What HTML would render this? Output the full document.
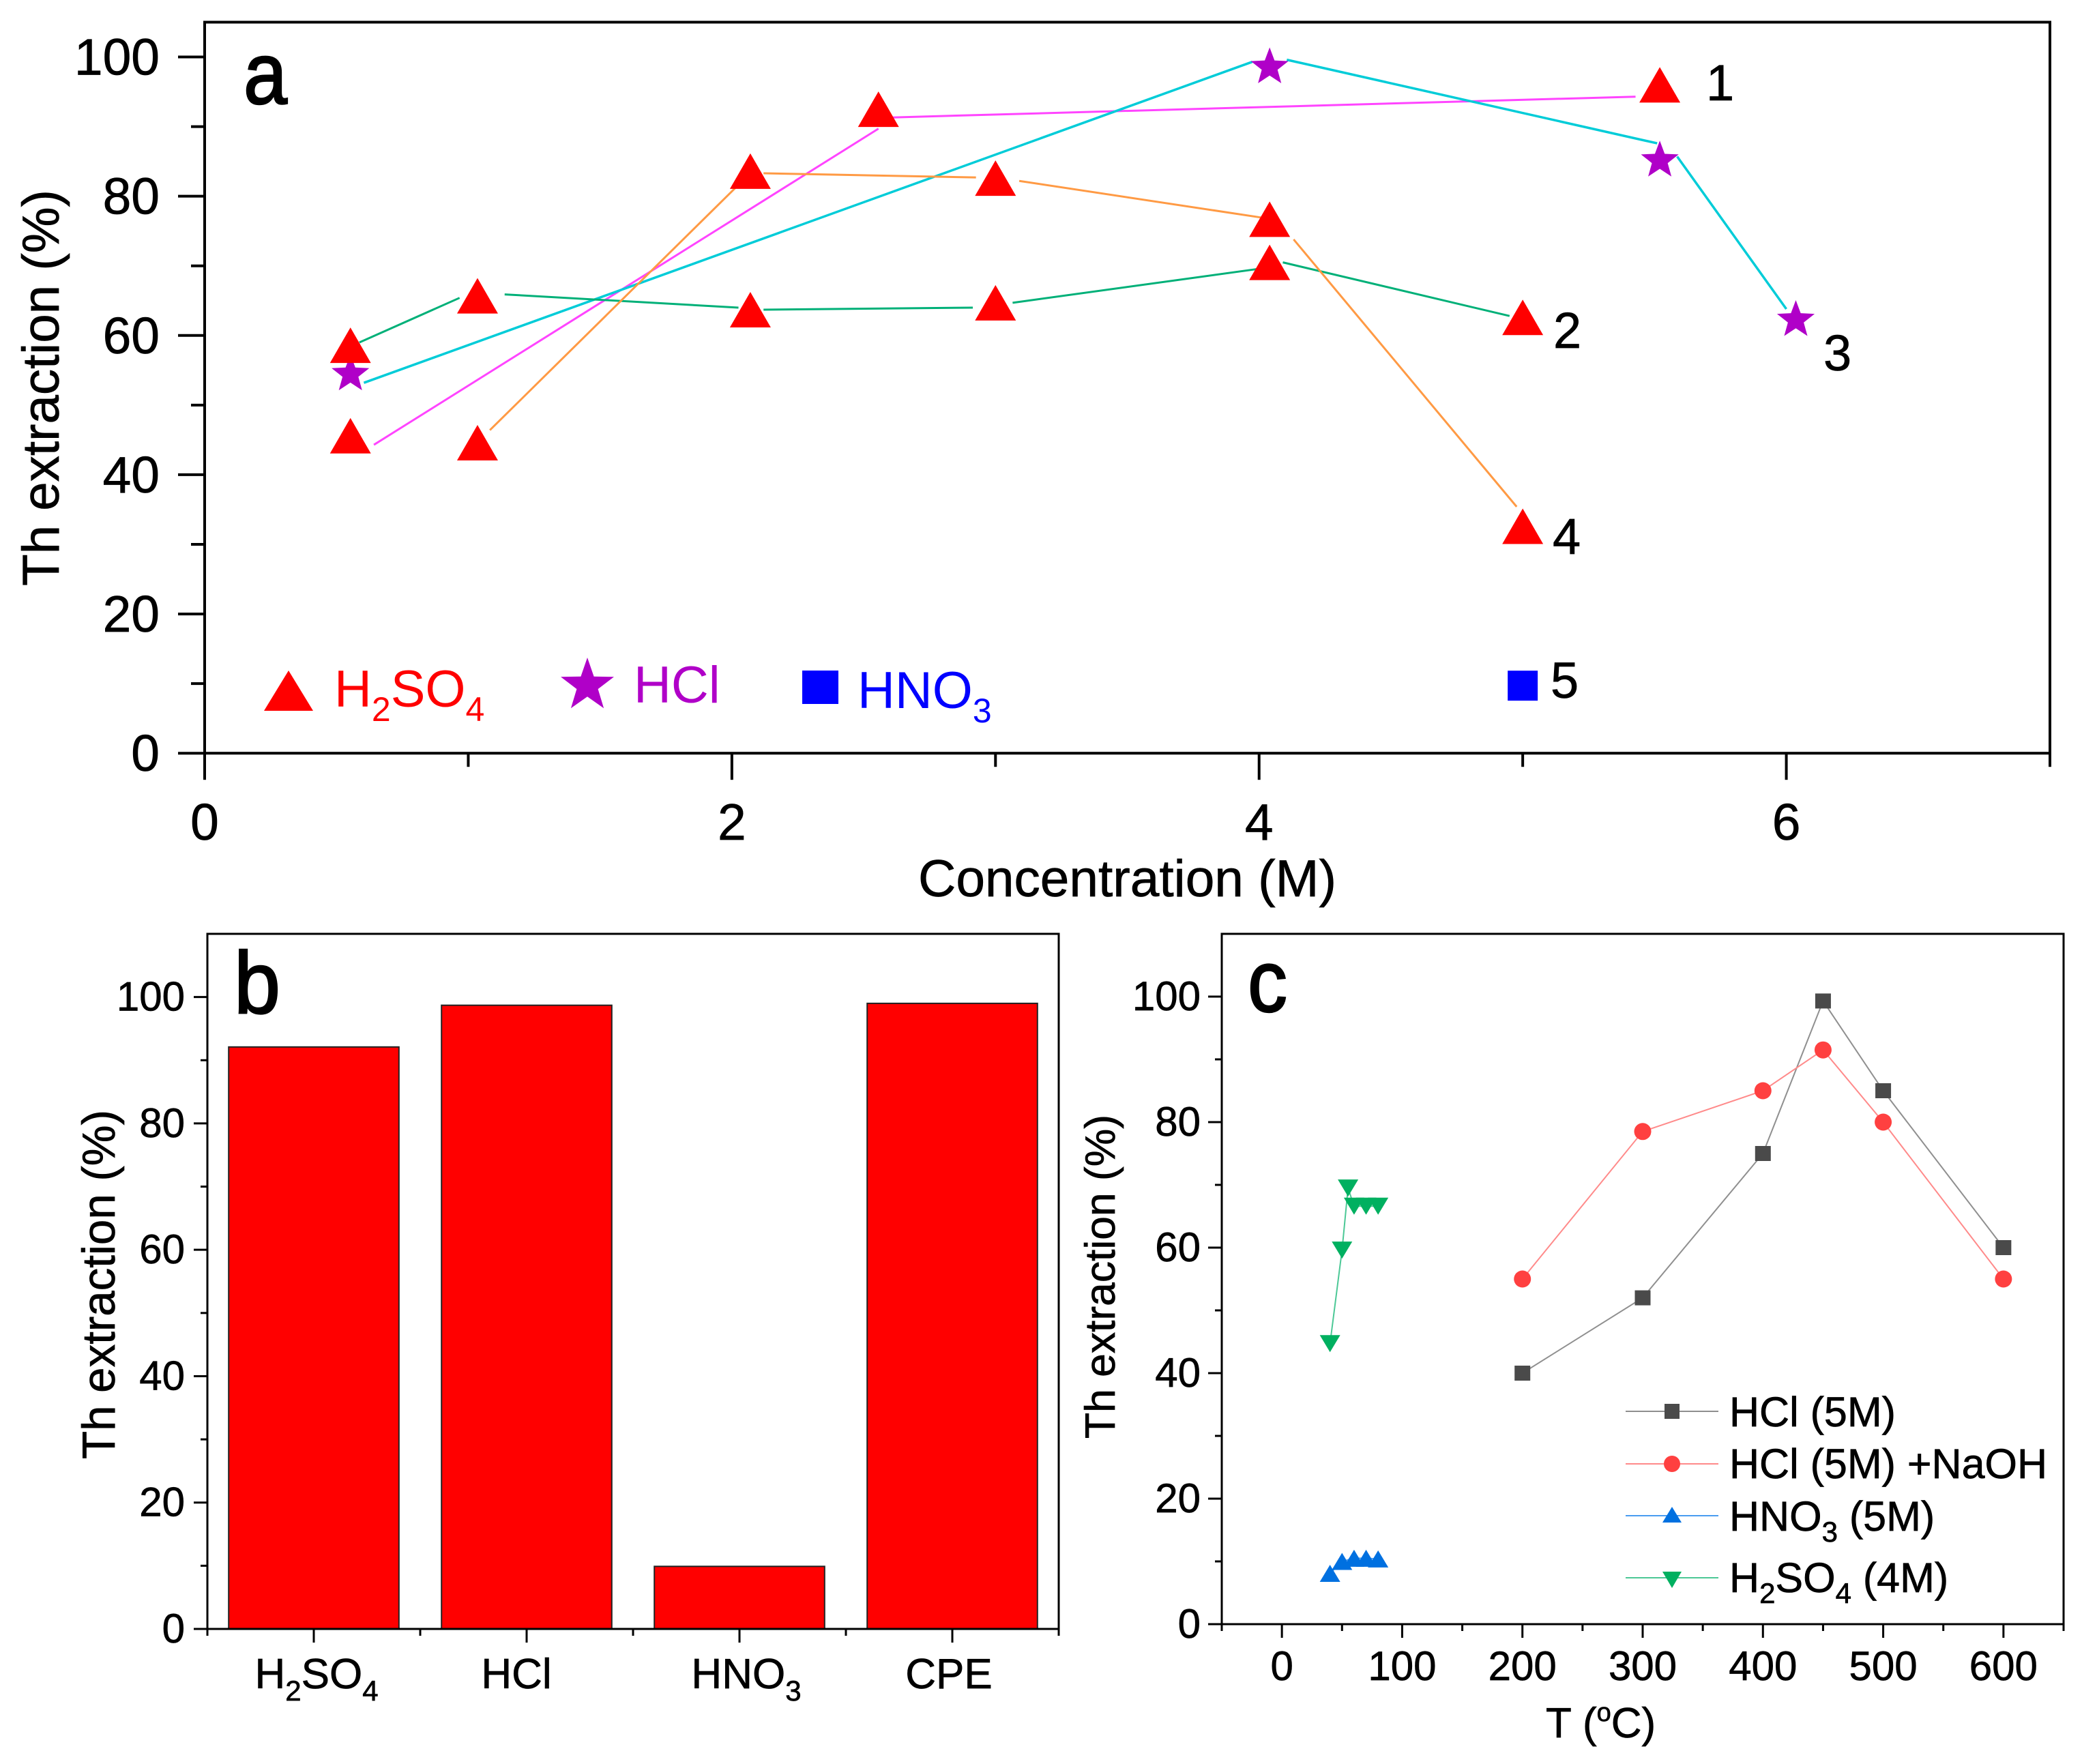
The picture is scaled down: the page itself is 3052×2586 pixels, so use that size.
<!DOCTYPE html>
<html lang="en">
<head>
<meta charset="utf-8">
<title>Th extraction charts</title>
<style>
html,body{margin:0;padding:0;background:#fff;}
svg{display:block;font-family:"Liberation Sans",Arial,sans-serif;}
text:not([fill]){stroke:#000;stroke-width:.7px;}
text.letter{stroke-width:2.5px;}
</style>
</head>
<body>
<svg id="figure" xmlns="http://www.w3.org/2000/svg" width="3052" height="2586" viewBox="0 0 3052 2586">
  <rect x="0" y="0" width="3052" height="2586" fill="#fff"/>

  <g id="panel-a"></g>
  <g id="panel-b"></g>
  <g id="panel-c"></g>

  <!-- Panel a text -->
  <text class="letter" x="357" y="152" font-size="128" textLength="64" lengthAdjust="spacingAndGlyphs">a</text>
  <text transform="translate(86,859) rotate(-90)" font-size="76" textLength="581" lengthAdjust="spacingAndGlyphs">Th extraction (%)</text>
  <text x="1346" y="1314" font-size="76" textLength="613" lengthAdjust="spacingAndGlyphs">Concentration (M)</text>
  <text x="2501" y="147" font-size="74">1</text>
  <text x="2277" y="510" font-size="74">2</text>
  <text x="2673" y="543" font-size="74">3</text>
  <text x="2276" y="812" font-size="74">4</text>
  <text x="2273" y="1023" font-size="74">5</text>
  <polygon points="423,983 459,1042 387,1042" fill="#ff0000"/>
  <text x="490" y="1036" font-size="76" fill="#ff0000">H<tspan font-size="50" dy="21">2</tspan><tspan dy="-21">SO</tspan><tspan font-size="50" dy="21">4</tspan></text>
  <polygon points="861,964 870.6,991.8 900,992.3 876.6,1010.1 885.1,1038.2 861,1021.3 836.9,1038.2 845.4,1010.1 822,992.3 851.4,991.8" fill="#b000c8"/>
  <text x="929" y="1030" font-size="76" fill="#b000c8">HCl</text>
  <rect x="1176" y="983" width="53" height="49" fill="#0000ff"/>
  <text x="1257" y="1038" font-size="76" fill="#0000ff">HNO<tspan font-size="50" dy="21">3</tspan></text>

  <!-- Panel b text -->
  <text class="letter" x="343" y="1485" font-size="128" textLength="68" lengthAdjust="spacingAndGlyphs">b</text>
  <text transform="translate(168,2139) rotate(-90)" font-size="68" textLength="512" lengthAdjust="spacingAndGlyphs">Th extraction (%)</text>

  <!-- Panel c text -->
  <text class="letter" x="1829" y="1483" font-size="128" textLength="58" lengthAdjust="spacingAndGlyphs">c</text>
  <text transform="translate(1634,2109) rotate(-90)" font-size="62" textLength="475" lengthAdjust="spacingAndGlyphs">Th extraction (%)</text>
  <text x="2266" y="2547" font-size="62">T (<tspan font-size="38" dy="-24">o</tspan><tspan dy="24">C)</tspan></text>

  <line x1="2383" y1="2069" x2="2519" y2="2069" stroke="#8f8f8f" stroke-width="2"/>
  <rect x="2440" y="2058" width="22" height="22" fill="#4a4a4a"/>
  <text x="2535" y="2091" font-size="61">HCl (5M)</text>
  <line x1="2383" y1="2146" x2="2519" y2="2146" stroke="#ff8a8a" stroke-width="2"/>
  <circle cx="2451" cy="2146" r="12" fill="#ff4040"/>
  <text x="2535" y="2167" font-size="61">HCl (5M) +NaOH</text>
  <line x1="2383" y1="2222" x2="2519" y2="2222" stroke="#4a9cf0" stroke-width="2"/>
  <polygon points="2451,2209 2465,2232 2437,2232" fill="#0070e0"/>
  <text x="2535" y="2244" font-size="61">HNO<tspan font-size="42" dy="16">3</tspan><tspan dy="-16"> (5M)</tspan></text>
  <line x1="2383" y1="2313" x2="2519" y2="2313" stroke="#4cc896" stroke-width="2"/>
  <polygon points="2437,2304 2465,2304 2451,2328" fill="#00b060"/>
  <text x="2535" y="2334" font-size="61">H<tspan font-size="42" dy="16">2</tspan><tspan dy="-16">SO</tspan><tspan font-size="42" dy="16">4</tspan><tspan dy="-16"> (4M)</tspan></text>
</svg>

<script>
/* ---------- Panel a data ---------- */
const aYMajorTicks = [0, 20, 40, 60, 80, 100];
const aYMinorTicks = [10, 30, 50, 70, 90];
const aXMajorTicks = [0, 2, 4, 6];
const aXMinorTicks = [1, 3, 5, 7];

const series1X = [0.553, 2.556, 5.52];
const series1Y = [45.6, 92.5, 96.0];
const series1LineX = [0.642, 2.556, 2.594, 5.428];
const series1LineY = [44.3, 89.7, 91.3, 94.3];

const series2X = [0.553, 1.035, 2.07, 3.0, 4.04, 5.0];
const series2Y = [58.6, 65.7, 63.7, 64.7, 70.5, 62.6];
const series2LineX = [0.587, 0.967, 1.138, 2.025, 2.12, 2.914, 3.065, 4.004, 4.09, 4.95];
const series2LineY = [59.0, 65.4, 65.9, 64.0, 63.7, 64.0, 64.7, 69.6, 70.5, 62.8];

const series3X = [0.553, 4.04, 5.52, 6.036];
const series3Y = [54.7, 98.8, 85.4, 62.5];
const series3LineX = [0.604, 3.974, 4.105, 5.51, 5.586, 6.0];
const series3LineY = [53.2, 99.3, 99.6, 87.6, 85.7, 63.8];

const series4X = [1.035, 2.07, 3.0, 4.04, 5.0];
const series4Y = [44.6, 83.6, 82.6, 76.7, 32.6];
const series4LineX = [1.082, 2.032, 2.12, 2.926, 3.09, 4.015, 4.131, 4.977];
const series4LineY = [46.4, 81.9, 83.3, 82.7, 82.2, 76.9, 73.8, 35.4];

const series5X = [5.0];
const series5Y = [9.7];

/* ---------- Panel b data ---------- */
const bCategories = ['H2SO4', 'HCl', 'HNO3', 'CPE'];
const bValues = [92.1, 98.7, 9.9, 99.0];
const bYMajorTicks = [0, 20, 40, 60, 80, 100];
const bYMinorTicks = [10, 30, 50, 70, 90];

/* ---------- Panel c data ---------- */
const cYMajorTicks = [0, 20, 40, 60, 80, 100];
const cYMinorTicks = [10, 30, 50, 70, 90];
const cXMajorTicks = [0, 100, 200, 300, 400, 500, 600];
const cXMinorTicks = [-50, 50, 150, 250, 350, 450, 550, 650];

const hclT = [200, 300, 400, 450, 500, 600];
const hclY = [40, 52, 75, 99.3, 85, 60];
const naohT = [200, 300, 400, 450, 500, 600];
const naohY = [55, 78.5, 85, 91.5, 80, 55];
const hno3T = [40, 50, 60, 70, 80];
const hno3Y = [8.1, 10, 10.5, 10.5, 10.4];
const h2so4T = [40, 50, 55, 60, 70, 80];
const h2so4Y = [44.7, 59.6, 69.5, 66.6, 66.6, 66.6];

/* ---------- Helpers ---------- */
const NS = 'http://www.w3.org/2000/svg';
function make(parent, tag, props, text) {
  const el = document.createElementNS(NS, tag);
  for (const k in props) el.setAttribute(k, props[k]);
  if (text !== undefined) el.textContent = text;
  parent.appendChild(el);
  return el;
}
function trianglePoints(cx, cy, w, h, down) {
  if (down) return [[cx - w / 2, cy - h / 2], [cx + w / 2, cy - h / 2], [cx, cy + h / 2]].join(' ');
  return [[cx, cy - h / 2], [cx + w / 2, cy + h / 2], [cx - w / 2, cy + h / 2]].join(' ');
}
function starPoints(cx, cy, r) {
  const pts = [];
  for (let i = 0; i < 10; i++) {
    const rr = i % 2 ? r * 0.42 : r;
    const a = -Math.PI / 2 + i * Math.PI / 5;
    pts.push([cx + rr * Math.cos(a), cy + rr * Math.sin(a)]);
  }
  return pts.join(' ');
}

/* Draws the frame/axes + ticks for a panel */
function drawAxes(g, name, box, sx, sy, cfg) {
  const frame = make(g, 'rect', {x: box.l, y: box.t, width: box.r - box.l, height: box.b - box.t, fill: 'none', stroke: '#000', 'stroke-width': cfg.sw});
  
  
  cfg.yMajor.forEach(function (v) {
    const t = make(g, 'line', {x1: box.l - cfg.major, x2: box.l, y1: sy(v), y2: sy(v), stroke: '#000', 'stroke-width': cfg.sw});
    
    
    const l = make(g, 'text', {x: box.l - cfg.yLabelGap, y: sy(v) + cfg.yLabelShift, 'font-size': cfg.fs, 'text-anchor': 'end'}, String(v));
    
    
  });
  cfg.yMinor.forEach(function (v) {
    const t = make(g, 'line', {x1: box.l - cfg.minor, x2: box.l, y1: sy(v), y2: sy(v), stroke: '#000', 'stroke-width': cfg.sw});
    
    
  });
  cfg.xMajor.forEach(function (v) {
    const t = make(g, 'line', {x1: sx(v), x2: sx(v), y1: box.b, y2: box.b + cfg.major, stroke: '#000', 'stroke-width': cfg.sw});
    
    
    if (cfg.xLabelY) {
      const l = make(g, 'text', {x: sx(v), y: cfg.xLabelY, 'font-size': cfg.fs, 'text-anchor': 'middle'}, String(v));
      
      
    }
  });
  cfg.xMinor.forEach(function (v) {
    const t = make(g, 'line', {x1: sx(v), x2: sx(v), y1: box.b, y2: box.b + cfg.minor, stroke: '#000', 'stroke-width': cfg.sw});
    
    
  });
}

/* ---------- Panel a ---------- */
(function () {
  const g = document.getElementById('panel-a');
  const box = {l: 300, r: 3005, t: 32.5, b: 1104.2};
  const sx = function (v) { return box.l + v * (box.r - box.l) / 7; };
  const sy = function (v) { return box.b - v * (box.b - box.t) / 105; };
  drawAxes(g, 'panel-a', box, sx, sy, {sw: 4, major: 39, minor: 20, yMajor: aYMajorTicks, yMinor: aYMinorTicks, xMajor: aXMajorTicks, xMinor: aXMinorTicks, fs: 75, yLabelGap: 66, yLabelShift: 26, xLabelY: 1231});

  function drawSegments(xs, ys, color, name, width) {
    for (let i = 0; i + 1 < xs.length; i += 2) {
      const s = make(g, 'line', {x1: sx(xs[i]), y1: sy(ys[i]), x2: sx(xs[i + 1]), y2: sy(ys[i + 1]), stroke: color, 'stroke-width': width});
      
      
    }
  }
  function drawTriangles(xs, ys, name) {
    xs.forEach(function (x, i) {
      const p = make(g, 'polygon', {points: trianglePoints(sx(x), sy(ys[i]), 60, 52, false), fill: '#ff0000'});
      
      
    });
  }
  drawSegments(series1LineX, series1LineY, '#ff44ff', 'series-1', 3);
  drawSegments(series3LineX, series3LineY, '#00ccd8', 'series-3', 3.5);
  drawSegments(series2LineX, series2LineY, '#00b078', 'series-2', 3);
  drawSegments(series4LineX, series4LineY, '#ff9a44', 'series-4', 3);

  series3X.forEach(function (x, i) {
    const r = 29;
    const p = make(g, 'polygon', {points: starPoints(sx(x), sy(series3Y[i]) + 0.095 * r, r), fill: '#b000c8'});
    
    
  });
  drawTriangles(series1X, series1Y, 'series-1');
  drawTriangles(series2X, series2Y, 'series-2');
  drawTriangles(series4X, series4Y, 'series-4');

  series5X.forEach(function (x, i) {
    const p = make(g, 'rect', {x: sx(x) - 22, y: sy(series5Y[i]) - 22, width: 44, height: 44, fill: '#0000ff'});
    
    
  });
})();

/* ---------- Panel b ---------- */
(function () {
  const g = document.getElementById('panel-b');
  const box = {l: 304, r: 1552, t: 1369, b: 2388};
  const band = (box.r - box.l) / bCategories.length;
  const sx = function (v) { return box.l + (v + 0.5) * band; };
  const sy = function (v) { return box.b - v * (box.b - box.t) / 110; };
  const catIdx = bCategories.map(function (c, i) { return i; });
  const between = [-0.5].concat(catIdx.map(function (i) { return i + 0.5; }));

  bValues.forEach(function (v, i) {
    const w = band * 0.8;
    const r = make(g, 'rect', {x: sx(i) - w / 2, y: sy(v), width: w, height: box.b - sy(v), fill: '#ff0000', stroke: '#222', 'stroke-width': 2});
    
    
  });
  drawAxes(g, 'panel-b', box, sx, sy, {sw: 3, major: 20, minor: 10, yMajor: bYMajorTicks, yMinor: bYMinorTicks, xMajor: catIdx, xMinor: between, fs: 60, yLabelGap: 33, yLabelShift: 20});

  const sizes = {main: 62, sub: 42, shift: 18};
  const catOffsets = [4, -15, 10, -5];
  bCategories.forEach(function (c, i) {
    const t = make(g, 'text', {x: sx(i) + catOffsets[i], y: 2475, 'font-size': sizes.main, 'text-anchor': 'middle'});
    
    
    const parts = c.match(/[A-Za-z]+|[0-9]+/g);
    let low = false;
    parts.forEach(function (part) {
      const isNum = /[0-9]/.test(part);
      const dy = isNum ? sizes.shift : (low ? -sizes.shift : 0);
      make(t, 'tspan', {dy: dy, 'font-size': isNum ? sizes.sub : sizes.main}, part);
      low = isNum;
    });
  });
})();

/* ---------- Panel c ---------- */
(function () {
  const g = document.getElementById('panel-c');
  const box = {l: 1791, r: 3025, t: 1369, b: 2381};
  const sx = function (v) { return box.l + (v + 50) * (box.r - box.l) / 700; };
  const sy = function (v) { return box.b - v * (box.b - box.t) / 110; };
  drawAxes(g, 'panel-c', box, sx, sy, {sw: 3, major: 20, minor: 10, yMajor: cYMajorTicks, yMinor: cYMinorTicks, xMajor: cXMajorTicks, xMinor: cXMinorTicks, fs: 60, yLabelGap: 31, yLabelShift: 20, xLabelY: 2463});

  function drawLine(xs, ys, color, name) {
    const pts = xs.map(function (x, i) { return [sx(x), sy(ys[i])].join(','); }).join(' ');
    const l = make(g, 'polyline', {points: pts, fill: 'none', stroke: color, 'stroke-width': 2});
    
    
  }
  drawLine(hclT, hclY, '#8f8f8f', 'hcl-5m');
  drawLine(naohT, naohY, '#ff8a8a', 'hcl-5m-naoh');
  drawLine(hno3T, hno3Y, '#4a9cf0', 'hno3-5m');
  drawLine(h2so4T, h2so4Y, '#4cc896', 'h2so4-4m');

  hclT.forEach(function (x, i) {
    const p = make(g, 'rect', {x: sx(x) - 11.5, y: sy(hclY[i]) - 11, width: 23, height: 22, fill: '#4a4a4a'});
    
    
  });
  naohT.forEach(function (x, i) {
    const p = make(g, 'circle', {cx: sx(x), cy: sy(naohY[i]), r: 12.5, fill: '#ff4040'});
    
    
  });
  hno3T.forEach(function (x, i) {
    const p = make(g, 'polygon', {points: trianglePoints(sx(x), sy(hno3Y[i]), 30, 25, false), fill: '#0070e0'});
    
    
  });
  h2so4T.forEach(function (x, i) {
    const p = make(g, 'polygon', {points: trianglePoints(sx(x), sy(h2so4Y[i]), 30, 25, true), fill: '#00b060'});
    
    
  });
})();
</script>
</body>
</html>
